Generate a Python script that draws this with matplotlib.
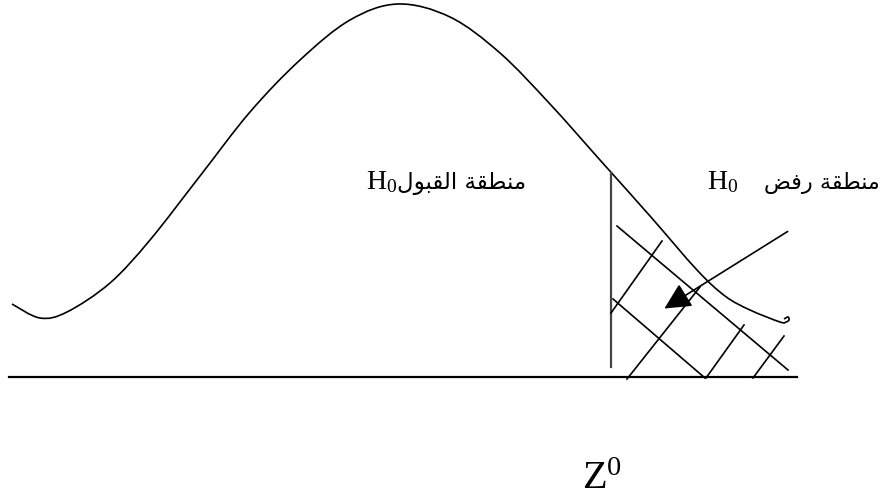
import matplotlib
matplotlib.use("Agg")
import matplotlib.pyplot as plt
import numpy as np
from matplotlib.path import Path
from matplotlib.patches import PathPatch

# ---- data (pixel-space diagram coordinates, y downward) ----
curve_x = [12, 40, 67, 110, 150, 200, 250, 300, 350, 398, 450, 500, 550,
           600, 650, 697, 725, 750, 780, 786, 789, 788, 784]
curve_y = [304, 318, 312, 283, 240, 176, 112, 60, 20, 4, 17, 53, 104,
           160, 216, 270, 296, 310, 322, 322, 320, 317, 319]

base_x = [9, 797]
base_y = [377, 377]

crit_x = [611, 611]
crit_y = [173, 367]

hatch_lines = [
    [(617, 226), (788, 370)],
    [(613, 299), (705, 378)],
    [(662, 241), (611, 313)],
    [(700, 287), (627, 379)],
    [(744, 325), (706, 378)],
    [(784, 336), (753, 378)],
]

arrow_start = (790, 230)
arrow_tip = (662, 310)

# Arabic in visual (left-to-right) order with presentation forms
acc_word = "\uFEDD\uFEEE\uFE92\uFED8\uFEDF\uFE8D"   # القبول
region_word = "\uFE94\uFED8\uFEC4\uFEE8\uFEE3"      # منطقة
rej_word = "\uFEBE\uFED3\uFEAD"                     # رفض
label_accept = acc_word + " " + region_word
label_reject = rej_word + " " + region_word


def smooth_path(xs, ys):
    """Catmull-Rom through the given points, drawn as cubic Bezier segments."""
    pts = np.column_stack([xs, ys]).astype(float)
    ext = np.vstack([pts[0], pts, pts[-1]])
    verts = [pts[0]]
    codes = [Path.MOVETO]
    for i in range(1, len(ext) - 2):
        p0, p1, p2, p3 = ext[i - 1], ext[i], ext[i + 1], ext[i + 2]
        c1 = p1 + (p2 - p0) / 6.0
        c2 = p2 - (p3 - p1) / 6.0
        verts += [c1, c2, p2]
        codes += [Path.CURVE4] * 3
    return Path(verts, codes)


W, H = 884, 499
fig = plt.figure(figsize=(W / 100, H / 100), dpi=100)
ax = fig.add_axes([0, 0, 1, 1])
ax.set_xlim(0, W)
ax.set_ylim(H, 0)
ax.axis("off")

plt.rcParams["mathtext.fontset"] = "custom"
plt.rcParams["mathtext.rm"] = "Liberation Serif"
plt.rcParams["mathtext.it"] = "Liberation Serif:italic"

ax.add_patch(PathPatch(smooth_path(curve_x, curve_y), fill=False,
                       edgecolor="black", lw=1.2))
ax.plot(base_x, base_y, color="black", lw=1.6)
ax.plot(crit_x, crit_y, color="#444444", lw=1.6)
for (x0, y0), (x1, y1) in hatch_lines:
    ax.plot([x0, x1], [y0, y1], color="black", lw=1.2)

ax.annotate("", xy=arrow_tip, xytext=arrow_start,
            arrowprops=dict(arrowstyle="-|>,head_length=0.9,head_width=0.45",
                            color="black", lw=1.2, mutation_scale=18))

# labels
ax.text(366, 189, r"$\mathrm{H}_0$", fontsize=20, va="baseline", ha="left")
ax.text(397, 189, label_accept, fontsize=16.5, va="baseline", ha="left",
        family="DejaVu Sans")
ax.text(707, 189, r"$\mathrm{H}_0$", fontsize=20, va="baseline", ha="left")
ax.text(764, 189, label_reject, fontsize=16, va="baseline", ha="left",
        family="DejaVu Sans")

ax.text(582, 489, r"$\mathrm{Z}^0$", fontsize=29, va="baseline", ha="left")

fig.savefig("out.png", dpi=100)
